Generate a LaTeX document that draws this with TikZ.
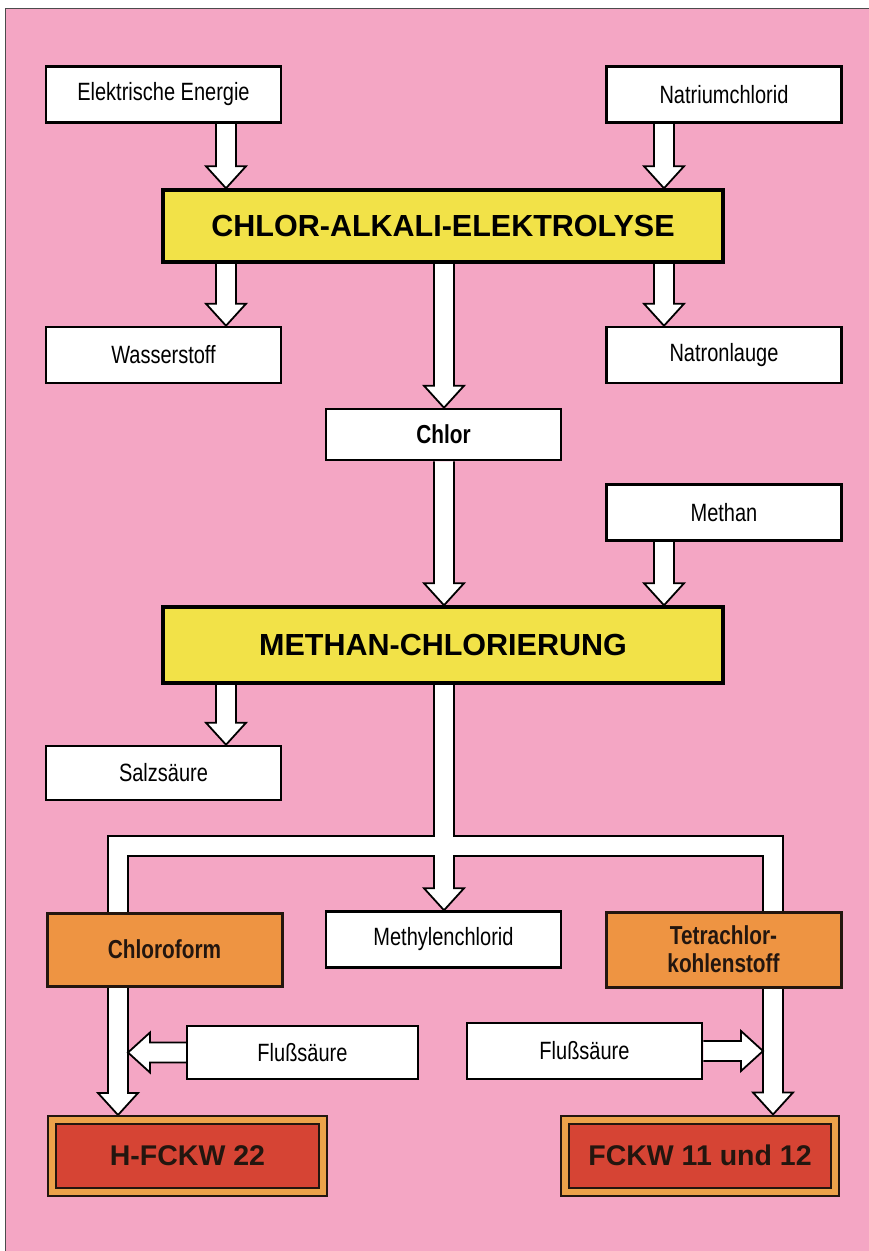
\documentclass[tikz,border=0pt]{standalone}
\usepackage{fontspec}
\setmainfont{Liberation Sans}
\newfontfamily\condfont[FakeStretch=0.8]{Liberation Sans}
\usetikzlibrary{calc}

\definecolor{pinkbg}{RGB}{244,166,196}
\definecolor{procyellow}{RGB}{242,226,72}
\definecolor{prodorange}{RGB}{238,148,66}
\definecolor{finalred}{RGB}{214,68,52}
\definecolor{framegold}{RGB}{236,162,74}
\definecolor{inkdark}{RGB}{35,22,15}

\pgfdeclarelayer{background}
\pgfdeclarelayer{flow}
\pgfsetlayers{background,flow,main}

\tikzset{
  stoff/.style={draw, line width=2.5pt, fill=white, minimum width=235pt,
    minimum height=56pt, inner sep=0pt, font=\condfont\fontsize{25}{28}\selectfont},
  prozess/.style={draw, line width=3.5pt, fill=procyellow, minimum width=560pt,
    minimum height=72pt, font=\bfseries\fontsize{30.5}{34}\selectfont},
  zwischen/.style={draw=inkdark, line width=3pt, fill=prodorange, minimum width=235pt,
    minimum height=73pt, align=center, text=inkdark,
    font=\condfont\bfseries\fontsize{26}{28}\selectfont},
  produkt/.style={draw=inkdark, line width=2pt, double=framegold, double distance=6pt,
    fill=finalred, minimum width=271pt, minimum height=72pt, outer sep=5pt,
    text=inkdark, font=\bfseries\fontsize{28.5}{32}\selectfont},
  flowline/.style={draw, line width=1.8pt, fill=white, line join=miter},
  trunk/.style={line join=miter, line cap=butt},
}

% block arrow from #1 to #2: shaft 20pt, head 40pt wide, 22pt long
\newcommand\flowarrow[2]{%
  \coordinate (fa-s) at (#1);
  \coordinate (fa-e) at (#2);
  \coordinate (fa-h) at ($(fa-e)!22pt!(fa-s)$);
  \draw[flowline] ($(fa-s)!10pt!90:(fa-e)$) -- ($(fa-h)!10pt!90:(fa-e)$)
    -- ($(fa-h)!20pt!90:(fa-e)$) -- (fa-e) -- ($(fa-h)!20pt!-90:(fa-e)$)
    -- ($(fa-h)!10pt!-90:(fa-e)$) -- ($(fa-s)!10pt!-90:(fa-e)$);}

\begin{document}
\begin{tikzpicture}[x=1pt, y=-1pt]
  \useasboundingbox (0,0) rectangle (869,1251);
  \begin{pgfonlayer}{background}
    \fill[white] (0,0) rectangle (869,1251);
    \fill[pinkbg] (5,8) rectangle (869,1251);
    \draw[line width=1pt, black!70] (5,1251) -- (5,8) -- (869,8);
  \end{pgfonlayer}

  % columns of the arrows
  \coordinate (colL) at (226,0);
  \coordinate (colM) at (444,0);
  \coordinate (colR) at (664,0);
  \coordinate (colCL) at (118,0);
  \coordinate (colCR) at (773,0);
  \coordinate (shaftCL) at (128,0);
  \coordinate (shaftCR) at (763,0);
  \coordinate (band) at (444,846);

  \node[stoff] (elek) at (163.5,94.5) {Elektrische Energie};
  \node[stoff] (natrium) at (724,94.5) {Natriumchlorid};
  \node[prozess] (elektro) at (443,226) {CHLOR-ALKALI-ELEKTROLYSE};
  \node[stoff] (wasser) at (163.5,355) {Wasserstoff};
  \node[stoff] (natron) at (724,355) {Natronlauge};
  \node[stoff, minimum height=51pt, font=\condfont\bfseries\fontsize{26}{28}\selectfont]
    (chlor) at (443.5,434.5) {Chlor};
  \node[stoff] (methan) at (724,512.5) {Methan};
  \node[prozess, minimum height=76pt] (methchl) at (443,645) {METHAN-CHLORIERUNG};
  \node[stoff, minimum height=54pt] (salz) at (163.5,773) {Salzsäure};
  \node[zwischen] (chloroform) at (164.5,949.5) {Chloroform};
  \node[stoff] (methylen) at (443.5,939.5) {Methylenchlorid};
  \node[zwischen, minimum height=75pt] (tetra) at (723.5,949.5) {Tetrachlor-\\kohlenstoff};
  \node[stoff, minimum width=231pt, minimum height=53pt] (fluss1) at (302.5,1052.5) {Flußsäure};
  \node[stoff] (fluss2) at (584.5,1051) {Flußsäure};
  \node[produkt] (hfckw) at (187.5,1156) {H-FCKW 22};
  \node[produkt, minimum width=270pt] (fckw) at (700,1155.5) {FCKW 11 und 12};

  \begin{pgfonlayer}{flow}
    \flowarrow{elek.south -| colL}{elektro.north -| colL}
    \flowarrow{natrium.south -| colR}{elektro.north -| colR}
    \flowarrow{elektro.south -| colL}{wasser.north -| colL}
    \flowarrow{elektro.south -| colM}{chlor.north -| colM}
    \flowarrow{elektro.south -| colR}{natron.north -| colR}
    \flowarrow{chlor.south -| colM}{methchl.north -| colM}
    \flowarrow{methan.south -| colR}{methchl.north -| colR}
    \flowarrow{methchl.south -| colL}{salz.north -| colL}
    % split below the chlorination: outline first, then the white inside
    \draw[trunk, line width=21.8pt] (methchl.south -| colM) -- (band)
      (chloroform.north -| colCL) |- (band) -| (tetra.north -| colCR);
    \flowarrow{band}{methylen.north -| colM}
    \draw[trunk, line width=18.2pt, white] (methchl.south -| colM) -- (band)
      (chloroform.north -| colCL) |- (band) -| (tetra.north -| colCR);
    \flowarrow{chloroform.south -| colCL}{hfckw.north -| colCL}
    \flowarrow{tetra.south -| colCR}{fckw.north -| colCR}
    \flowarrow{fluss1.west}{fluss1.west -| shaftCL}
    \flowarrow{fluss2.east}{fluss2.east -| shaftCR}
  \end{pgfonlayer}
\end{tikzpicture}
\end{document}
